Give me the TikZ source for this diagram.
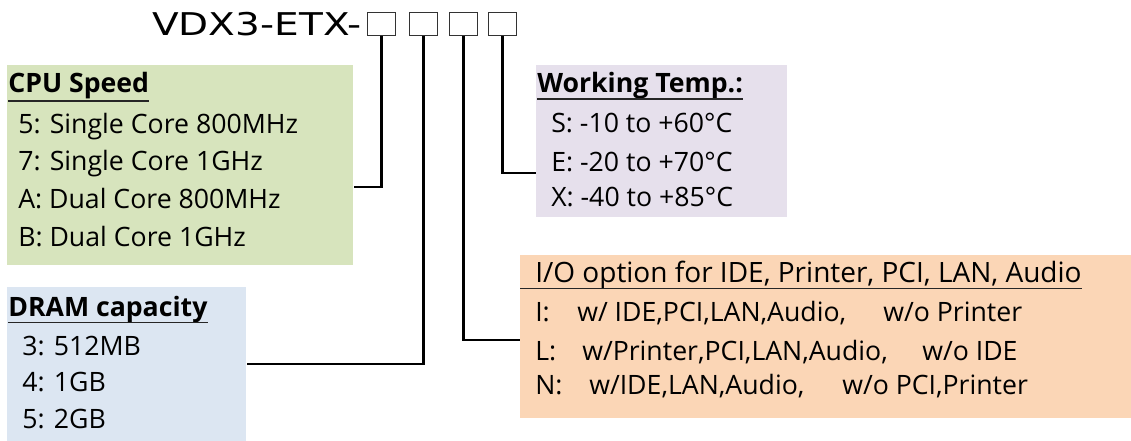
\documentclass[tikz,border=0pt]{standalone}
\usepackage{fontspec}
\setmainfont{Open Sans}
\newfontfamily\titlefont{DejaVu Sans}
\definecolor{cpugreen}{HTML}{D7E4BD}
\definecolor{dramblue}{HTML}{DCE6F2}
\definecolor{templilac}{HTML}{E6E0EC}
\definecolor{iopeach}{HTML}{FBD6B6}

\begin{document}
\begin{tikzpicture}[x=0.75pt,y=-0.75pt,
  digit box/.style={draw=black!80,line width=0.8pt,anchor=north west,inner sep=0pt,minimum width=21pt,minimum height=17.25pt},
  group box/.style={anchor=north west,inner sep=0pt},
  head/.style={anchor=base west,inner sep=0pt,font=\fontsize{20}{24}\selectfont\bfseries},
  item/.style={anchor=base west,inner sep=0pt,font=\fontsize{20}{24}\selectfont},
  rule line/.style={line width=0.8pt,black!85},
  lead/.style={line width=1.6pt}]
  \useasboundingbox (0,0) rectangle (1131,441);

  % part number
  \node[anchor=base west,inner sep=0pt] (pn) at (152,36) {\scalebox{1.245}[1]{\titlefont\fontsize{23.5}{28}\selectfont VDX3-ETX-}};
  \node[digit box] (s1) at (367,12) {};
  \node[digit box] (s2) at (409,12) {};
  \node[digit box] (s3) at (449,12) {};
  \node[digit box] (s4) at (488,12) {};

  % option boxes
  \node[group box,fill=cpugreen,minimum width=259.5pt,minimum height=150pt] (cpu) at (7,65) {};
  \node[group box,fill=dramblue,minimum width=179.25pt,minimum height=115.5pt] (dram) at (7,287) {};
  \node[group box,fill=templilac,minimum width=188.25pt,minimum height=114pt] (temp) at (536,65) {};
  \node[group box,fill=iopeach,minimum width=458.25pt,minimum height=122.25pt] (io) at (520,255) {};

  % CPU speed
  \node[head] (cpu title) at (8,93) {CPU Speed};
  \draw[rule line] ([yshift=-6pt]cpu title.base west) -- ([yshift=-6pt]cpu title.base east);
  \node[item] (cpu5) at (18,134) {5: Single Core 800MHz};
  \node[item] (cpu7) at (18,171) {7: Single Core 1GHz};
  \node[item] (cpuA) at (18,209) {A: Dual Core 800MHz};
  \node[item] (cpuB) at (18,247) {B: Dual Core 1GHz};

  % DRAM
  \node[head] (dram title) at (8,317) {DRAM capacity};
  \draw[rule line] ([yshift=-4pt]dram title.base west) -- ([yshift=-4pt]dram title.base east);
  \node[item] (dram3) at (22,355) {3: 512MB};
  \node[item] (dram4) at (22,392) {4: 1GB};
  \node[item] (dram5) at (22,428) {5: 2GB};

  % working temperature
  \node[head] (temp title) at (537,93) {Working Temp.:};
  \draw[rule line] ([yshift=-4.5pt]temp title.base west) -- ([yshift=-4.5pt]temp title.base east);
  \node[item] (tempS) at (551,133) {S: -10 to +60°C};
  \node[item] (tempE) at (551,172) {E: -20 to +70°C};
  \node[item] (tempX) at (551,207) {X: -40 to +85°C};

  % I/O option
  \node[item,font=\fontsize{21}{25}\selectfont] (io title) at (535,283) {I/O option for IDE, Printer, PCI, LAN, Audio};
  \path ([yshift=-4pt]io title.base east) coordinate (io rule);
  \draw[rule line] (io rule) -- (io rule -| io.west);
  \node[item] (ioI) at (535,322) {I:};
  \node[item] (ioI with) at (577,322) {w/ IDE,PCI,LAN,Audio,};
  \node[item] (ioI without) at (883,322) {w/o Printer};
  \node[item] (ioL) at (535,360) {L:};
  \node[item] (ioL with) at (582,360) {w/Printer,PCI,LAN,Audio,};
  \node[item] (ioL without) at (922,360) {w/o IDE};
  \node[item] (ioN) at (535,394) {N:};
  \node[item] (ioN with) at (589,394) {w/IDE,LAN,Audio,};
  \node[item] (ioN without) at (842,394) {w/o PCI,Printer};

  % leads
  \draw[lead] (s1.south) |- ([yshift=-16.5pt]cpu.east);
  \draw[lead] (s2.south) |- (dram.east);
  \draw[lead] (s3.south) |- ([yshift=-2.6pt]io.west);
  \draw[lead] (s4.south) |- ([yshift=-24pt]temp.west);
\end{tikzpicture}
\end{document}
